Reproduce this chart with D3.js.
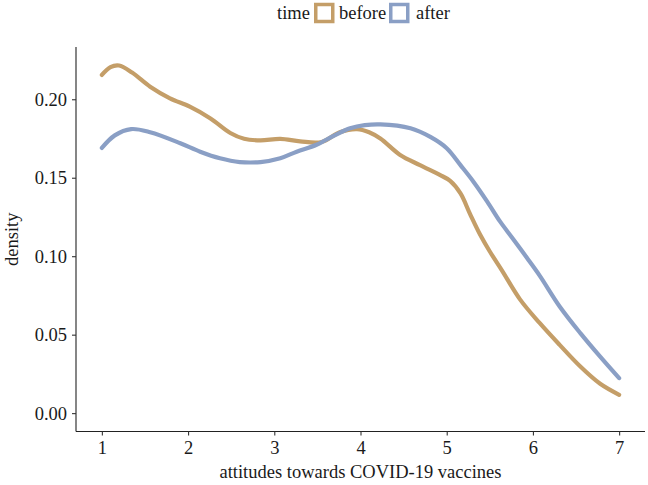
<!DOCTYPE html>
<html><head><meta charset="utf-8">
<script src="https://cdn.jsdelivr.net/npm/d3@7"></script>
<style>body{margin:0;background:#fff}svg{display:block}text{font-family:"Liberation Serif","DejaVu Serif",serif;fill:#1a1a1a}</style>
</head><body><svg id="c" width="648" height="485"></svg>
<script>
const seriesNames = ["before", "after"];
const seriesColors = ["#C49E68", "#8A9FC5"];
const beforeX = [1.00, 1.10, 1.20, 1.35, 1.56, 1.79, 2.02, 2.26, 2.49, 2.65, 2.84, 3.07, 3.30, 3.55, 3.76, 3.96, 4.10, 4.23, 4.46, 4.69, 4.92, 5.04, 5.16, 5.27, 5.39, 5.50, 5.64, 5.85, 6.08, 6.31, 6.55, 6.78, 7.00];
const beforeY = [0.2155, 0.2205, 0.2215, 0.217, 0.208, 0.2006, 0.1953, 0.1878, 0.1785, 0.1748, 0.1738, 0.1748, 0.1732, 0.1728, 0.179, 0.181, 0.179, 0.175, 0.1645, 0.158, 0.1518, 0.148, 0.140, 0.127, 0.1135, 0.103, 0.091, 0.0725, 0.0573, 0.0435, 0.0297, 0.0187, 0.0117];
const afterX = [1.00, 1.15, 1.34, 1.56, 1.91, 2.14, 2.37, 2.60, 2.84, 3.07, 3.26, 3.49, 3.70, 3.88, 4.05, 4.23, 4.58, 4.81, 5.00, 5.16, 5.31, 5.47, 5.62, 5.77, 5.93, 6.08, 6.31, 6.55, 6.78, 7.00];
const afterY = [0.169, 0.177, 0.181, 0.179, 0.172, 0.1666, 0.1624, 0.160, 0.160, 0.1624, 0.1666, 0.171, 0.177, 0.1815, 0.1835, 0.184, 0.1815, 0.176, 0.1688, 0.158, 0.1475, 0.1348, 0.122, 0.111, 0.099, 0.0875, 0.068, 0.051, 0.036, 0.0223];
const xTicks = [1, 2, 3, 4, 5, 6, 7];
const yTicks = [0, 0.05, 0.10, 0.15, 0.20];

const svg = d3.select("#c");
const mLeft = 76, mRight = 645, mTop = 47, mBottom = 431.5;
const x = d3.scaleLinear().domain([0.7, 7.3]).range([mLeft, mRight]);
const y = d3.scaleLinear().domain([-0.0117, 0.2333]).range([mBottom, mTop]);

const series = [
  {name: seriesNames[0], color: seriesColors[0], pts: beforeX.map((v, i) => [v, beforeY[i]])},
  {name: seriesNames[1], color: seriesColors[1], pts: afterX.map((v, i) => [v, afterY[i]])}
];
const line = d3.line().x(d => x(d[0])).y(d => y(d[1])).curve(d3.curveCatmullRom.alpha(0.5));
series.forEach(s => {
  svg.append("path").attr("d", line(s.pts)).attr("fill", "none")
    .attr("stroke", s.color).attr("stroke-width", 4.2).attr("stroke-linecap", "round").attr("stroke-linejoin", "round");
});

const xAxis = svg.append("g").attr("transform", `translate(0,${mBottom})`)
  .call(d3.axisBottom(x).tickValues(xTicks).tickFormat(d3.format("d")).tickSizeInner(4).tickSizeOuter(0).tickPadding(5));
const yAxis = svg.append("g").attr("transform", `translate(${mLeft},0)`)
  .call(d3.axisLeft(y).tickValues(yTicks).tickFormat(d3.format(".2f")).tickSizeInner(4).tickSizeOuter(0).tickPadding(5));
[xAxis, yAxis].forEach(g => {
  g.select(".domain").attr("stroke", "#222").attr("stroke-width", 1.1);
  g.selectAll(".tick line").attr("stroke", "#333").attr("stroke-width", 1.1);
  g.selectAll(".tick text").style("font-family", '"Liberation Serif",serif').style("font-size", "18.5px").attr("fill", "#1a1a1a");
});
xAxis.select(".domain").attr("d", `M${mLeft},0H${mRight}`);
yAxis.select(".domain").attr("d", `M0,${mTop}V${mBottom}`);

svg.append("text").attr("x", (mLeft + mRight) / 2).attr("y", 478).attr("text-anchor", "middle")
  .style("font-size", "18.5px").text("attitudes towards COVID-19 vaccines");
svg.append("text").attr("transform", `translate(18,${(mTop + mBottom) / 2}) rotate(-90)`).attr("text-anchor", "middle")
  .style("font-size", "18.5px").text("density");

// legend
const lg = svg.append("g");
lg.append("text").attr("x", 277).attr("y", 19).style("font-size", "18.5px").text("time");
const keyX = [314, 389];
const labX = [339, 416];
series.forEach((s, i) => {
  lg.append("rect").attr("x", keyX[i] + 1.75).attr("y", 4.5).attr("width", 17).attr("height", 17)
    .attr("fill", "#fff").attr("stroke", s.color).attr("stroke-width", 3.5);
  lg.append("text").attr("x", labX[i]).attr("y", 19).style("font-size", "18.5px").text(s.name);
});
</script></body></html>
